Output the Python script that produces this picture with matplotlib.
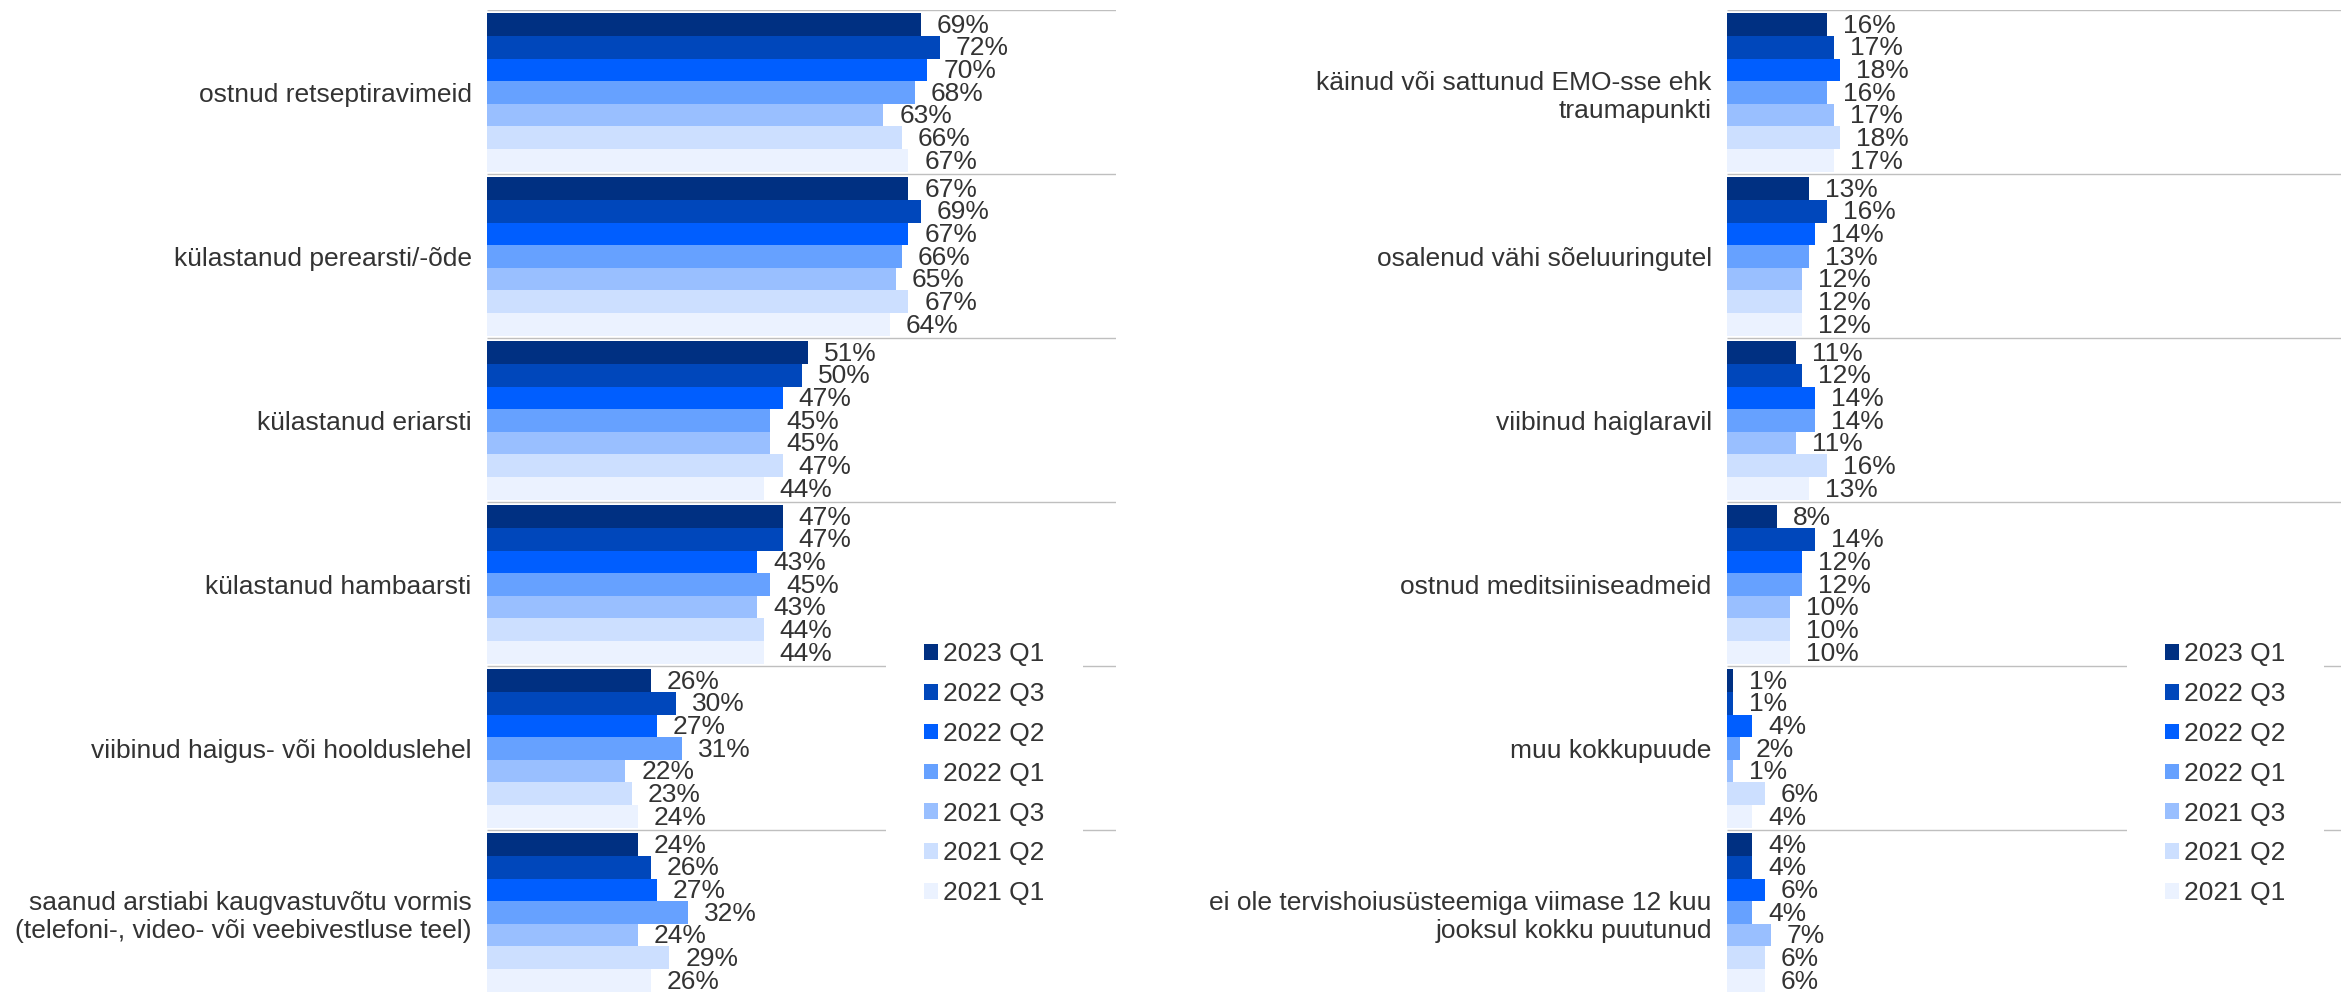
import matplotlib
matplotlib.use("Agg")
import matplotlib.pyplot as plt
from matplotlib.patches import Patch
import numpy as np

plt.rcParams['font.family'] = ['Liberation Sans', 'DejaVu Sans']

series = ["2023 Q1", "2022 Q3", "2022 Q2", "2022 Q1", "2021 Q3", "2021 Q2", "2021 Q1"]
colors = ["#003082", "#0047BB", "#005EFF", "#66A1FF", "#99BFFF", "#CCDFFF", "#EBF2FF"]

left_categories = [
    "ostnud retseptiravimeid",
    "külastanud perearsti/-õde",
    "külastanud eriarsti",
    "külastanud hambaarsti",
    "viibinud haigus- või hoolduslehel",
    "saanud arstiabi kaugvastuvõtu vormis\n(telefoni-, video- või veebivestluse teel)",
]
left_values = [
    [69, 72, 70, 68, 63, 66, 67],
    [67, 69, 67, 66, 65, 67, 64],
    [51, 50, 47, 45, 45, 47, 44],
    [47, 47, 43, 45, 43, 44, 44],
    [26, 30, 27, 31, 22, 23, 24],
    [24, 26, 27, 32, 24, 29, 26],
]

right_categories = [
    "käinud või sattunud EMO-sse ehk\ntraumapunkti",
    "osalenud vähi sõeluuringutel",
    "viibinud haiglaravil",
    "ostnud meditsiiniseadmeid",
    "muu kokkupuude",
    "ei ole tervishoiusüsteemiga viimase 12 kuu\njooksul kokku puutunud",
]
right_values = [
    [16, 17, 18, 16, 17, 18, 17],
    [13, 16, 14, 13, 12, 12, 12],
    [11, 12, 14, 14, 11, 16, 13],
    [8, 14, 12, 12, 10, 10, 10],
    [1, 1, 4, 2, 1, 6, 4],
    [4, 4, 6, 4, 7, 6, 6],
]

W, H = 2341, 994
DPI = 100
FS = 19
TXT = "#333333"
GRID = "#BFBFBF"

fig = plt.figure(figsize=(W / DPI, H / DPI), dpi=DPI)


def px_axes(x0, x1, y0, y1):
    return fig.add_axes([x0 / W, 1 - y1 / H, (x1 - x0) / W, (y1 - y0) / H])


def draw_panel(ax, cats, vals, xmax, legend_left):
    n_cat = len(cats)
    n_ser = len(series)
    bh = 0.138
    for j in range(n_ser):
        ys = np.arange(n_cat) + 0.5 + (j - (n_ser - 1) / 2) * bh
        xs = [v[j] for v in vals]
        ax.barh(ys, xs, height=bh, color=colors[j], linewidth=0, zorder=2)
        for y, x in zip(ys, xs):
            ax.annotate(f"{x}%", (x, y), xytext=(11.5, -0.8), textcoords="offset points",
                        va="center", ha="left", fontsize=FS, color=TXT)
    ax.hlines(np.arange(n_cat), 0, xmax, color=GRID, linewidth=1.0, zorder=1)
    ax.set_xlim(0, xmax)
    ax.set_ylim(n_cat, 0)
    ax.set_yticks(np.arange(n_cat) + 0.5)
    ax.set_yticklabels(cats, fontsize=FS, color=TXT, ha="right")
    ax.tick_params(axis="y", length=0, pad=11)
    ax.set_xticks([])
    for s in ax.spines.values():
        s.set_visible(False)
    handles = [Patch(facecolor=c, edgecolor="none") for c in colors]
    leg = ax.legend(handles, series, loc="upper left",
                    bbox_to_anchor=(legend_left / W, 1 - 604 / H),
                    bbox_transform=fig.transFigure, borderaxespad=0,
                    borderpad=1.45, frameon=True, fancybox=False,
                    fontsize=FS, handlelength=0.53, handleheight=0.53,
                    handletextpad=0.2, labelspacing=0.6)
    leg.get_frame().set_facecolor("white")
    leg.get_frame().set_edgecolor("none")
    leg.get_frame().set_alpha(1)
    for t in leg.get_texts():
        t.set_color(TXT)


ax1 = px_axes(487, 1116, 10.5, 994.5)
draw_panel(ax1, left_categories, left_values, 100, 885.5)

ax2 = px_axes(1727, 2341, 10.5, 994.5)
draw_panel(ax2, right_categories, right_values, (2341 - 1727) / 6.28, 2126.5)

fig.savefig("out.png", dpi=DPI, facecolor="white")
